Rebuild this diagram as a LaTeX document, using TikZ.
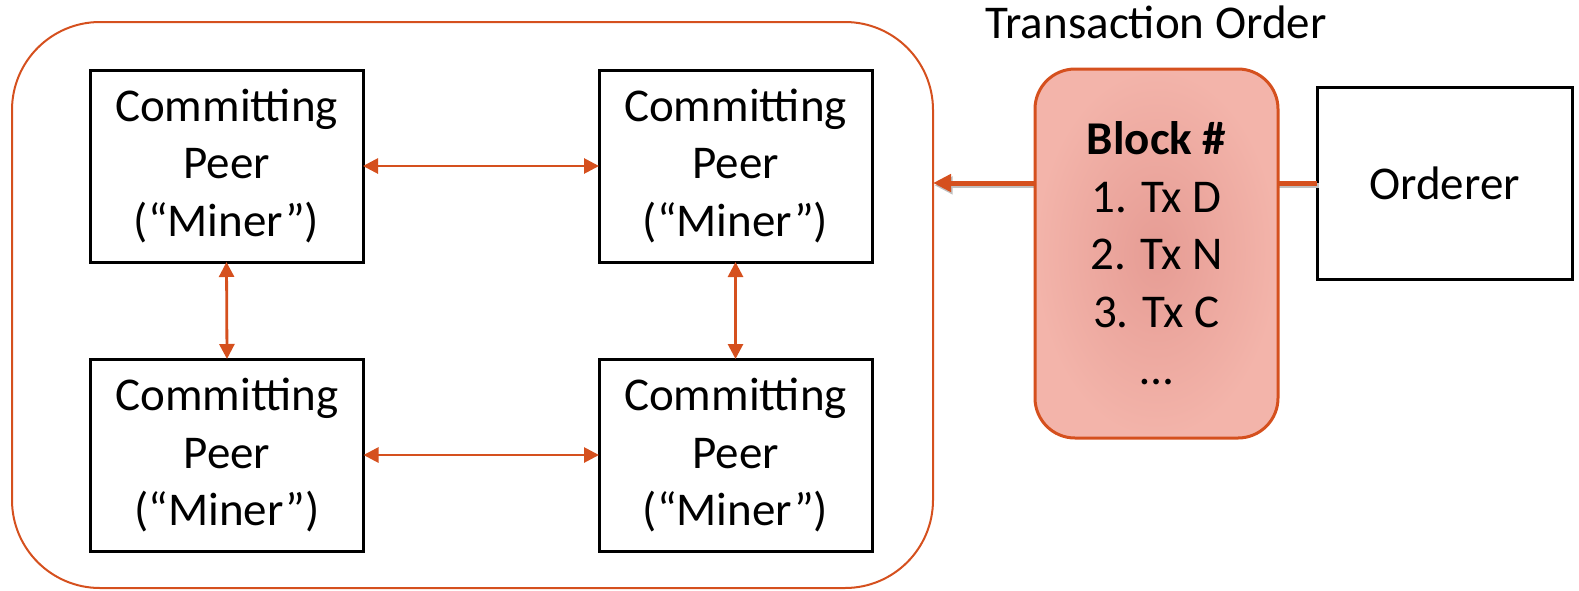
\documentclass[tikz,border=0pt]{standalone}
\usepackage{fontspec}
\setmainfont{Carlito}
\usetikzlibrary{arrows.meta}
\definecolor{rahmenrot}{RGB}{213,80,30}
\definecolor{blockaussen}{RGB}{243,180,170}
\definecolor{blockinnen}{RGB}{230,156,148}
\tikzset{
  peer/.style={draw, line width=1.5pt, align=center, minimum width=136.5pt, minimum height=96pt,
    inner sep=0pt, outer sep=0pt, font=\fontsize{23.5}{28.6}\selectfont},
  peerpfeil/.style={{Triangle[length=7.5pt,width=7.5pt]}-{Triangle[length=7.5pt,width=7.5pt]},
    line width=1.4pt, draw=rahmenrot, fill=rahmenrot},
  blockpfeil/.style={-{Triangle[length=9pt,width=8.5pt]}, line width=2.5pt, draw=rahmenrot,
    preaction={draw=black!25, line width=2.5pt, transform canvas={shift={(0.8pt,-1.2pt)}}}}
}
\begin{document}
\begin{tikzpicture}[x=0.5pt, y=-0.5pt]
                  \useasboundingbox (0,0) rectangle (1579,590);

                  % Netzwerk
                  \node[draw=rahmenrot, line width=1pt, rounded corners=44pt, minimum width=460.5pt,
                        minimum height=283pt, outer sep=0pt] (netz) at (472.5,305) {};

                  % Peers
                  \node[peer] (peerA) at (226.5,166) {Committing\\Peer\\(“Miner”)};
                  \node[peer] (peerB) at (735.5,166) {Committing\\Peer\\(“Miner”)};
                  \node[peer] (peerC) at (227,455) {Committing\\Peer\\(“Miner”)};
                  \node[peer] (peerD) at (735.5,455) {Committing\\Peer\\(“Miner”)};

                  % Verbindungen zwischen den Peers
                  \draw[peerpfeil] (peerA.east) -- (peerB.west);
                  \draw[peerpfeil] (peerC.east) -- (peerD.west);
                  \draw[peerpfeil] (peerA.south) -- (peerC.north);
                  \draw[peerpfeil] (peerB.south) -- (peerD.north);

                  % Orderer
                  \node[peer, minimum width=127.5pt] (orderer) at (1444.5,183) {Orderer};
                  \draw[blockpfeil] (orderer.west) -- (netz.east |- orderer.west);

                  % Block
                  \node[draw=rahmenrot, line width=1.5pt, rounded corners=20pt, inner color=blockinnen,
                        outer color=blockaussen, minimum width=121.5pt, minimum height=184.5pt,
                        align=center, outer sep=0pt, font=\fontsize{23.5}{28.75}\selectfont]
                        (block) at (1156.5,253.5) {\textbf{Block \#}\\1. Tx D\\2. Tx N\\3. Tx C\\…};
                  \node[anchor=base, font=\fontsize{23.5}{28.6}\selectfont] (titel) at (1156,38) {Transaction Order};
              \end{tikzpicture}
\end{document}
